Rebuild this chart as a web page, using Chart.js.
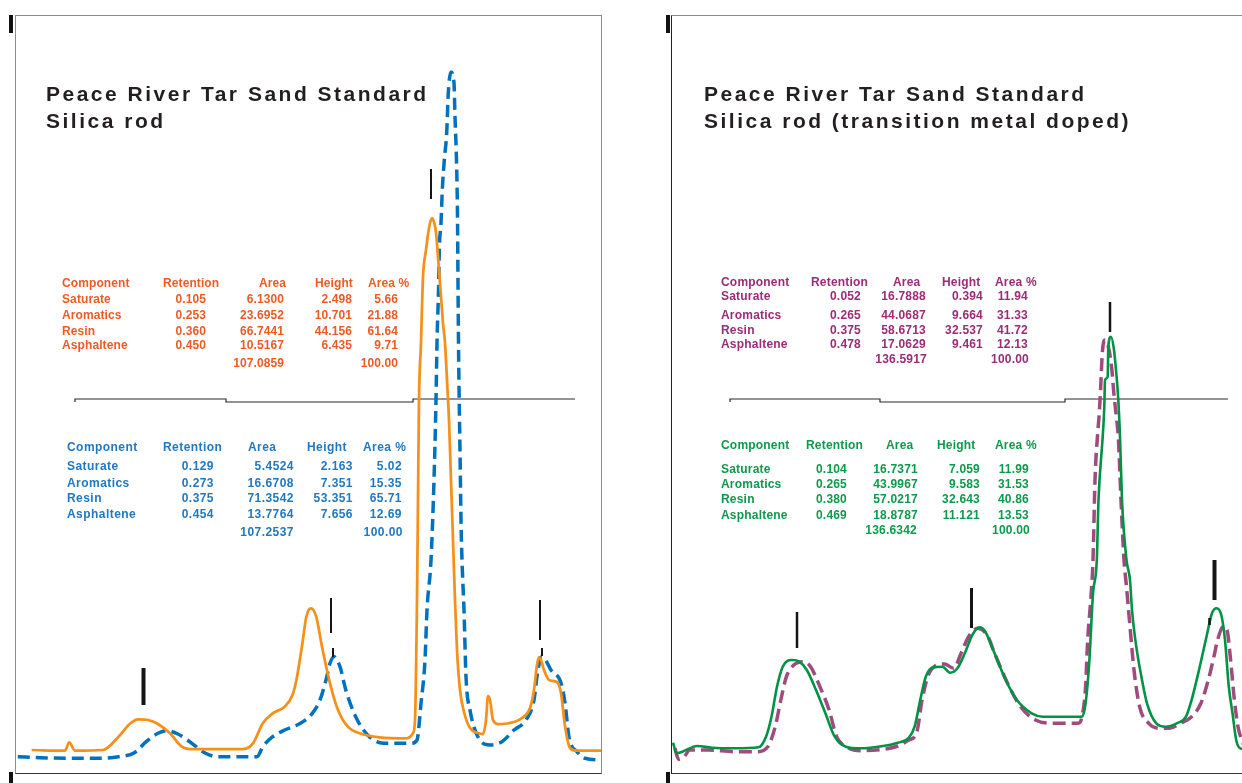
<!DOCTYPE html>
<html><head><meta charset="utf-8">
<script src="https://cdn.jsdelivr.net/npm/chart.js@4.4.1/dist/chart.umd.min.js"></script>
<style>
html,body{margin:0;padding:0;background:#fff;width:1242px;height:783px;overflow:hidden;}
body{position:relative;font-family:"Liberation Sans",Arial,sans-serif;}
.abs{position:absolute;}
canvas{display:block;}
.title{position:absolute;font-weight:bold;font-size:21px;line-height:21px;letter-spacing:2.5px;color:#231f20;white-space:nowrap;}
.cell{position:absolute;font-weight:bold;font-size:12px;line-height:12px;white-space:nowrap;}
</style></head><body>

<div class="abs" style="left:15px;top:15px;width:587px;height:759px;"><canvas id="cL" width="587" height="759"></canvas></div>
<div class="abs" style="left:671px;top:15px;width:587px;height:759px;"><canvas id="cR" width="587" height="759"></canvas></div>

<div class="abs" style="left:15px;top:15px;width:587px;height:759px;box-sizing:border-box;border:1px solid #8c8c8c;border-bottom-color:#333;pointer-events:none;"></div>
<div class="abs" style="left:671px;top:15px;width:600px;height:759px;box-sizing:border-box;border:1px solid #8c8c8c;border-left-color:#222;border-bottom-color:#333;pointer-events:none;"></div>

<div class="abs" style="left:9px;top:15px;width:4px;height:18px;background:#111;"></div>
<div class="abs" style="left:9px;top:772px;width:4px;height:11px;background:#111;"></div>
<div class="abs" style="left:666px;top:15px;width:4px;height:18px;background:#111;"></div>
<div class="abs" style="left:666px;top:772px;width:4px;height:11px;background:#111;"></div>

<div class="title" style="left:46px;top:82.7px;">Peace River Tar Sand Standard</div>
<div class="title" style="left:46px;top:109.7px;">Silica rod</div>
<div class="title" style="left:704px;top:82.7px;">Peace River Tar Sand Standard</div>
<div class="title" style="left:704px;top:109.7px;">Silica rod (transition metal doped)</div>

<div id="tables"></div>

<script>
// ---------- DATA ----------
// chromatogram traces: [scan time (s), detector signal (mV)]
const leftSolid = [
 [1.66,2.40],[5.0,2.33],[5.42,3.17],[6.0,2.33],[8.78,2.40],[10.36,3.73],[11.54,5.07],[12.33,5.47],[13.32,5.40],[14.3,5.0],
 [15.5,4.07],[16.68,2.73],[17.47,2.50],[22.8,2.50],[23.8,3.07],[24.78,5.07],[25.77,6.07],[26.96,6.73],[27.75,7.90],[28.14,9.40],
 [28.74,13.07],[29.13,15.73],[29.6,16.57],[30.12,15.73],[30.7,12.73],[31.5,9.07],[32.3,6.40],[33.28,4.73],[34.47,4.07],[36.44,3.67],
 [39.2,3.57],[39.8,4.07],[40.0,5.40],[40.2,17.4],[40.3,27.4],[40.4,37.4],[40.6,43.1],[40.7,46.7],[40.8,49.7],[41.1,52.4],
 [41.4,54.6],[41.7,55.6],[41.9,55.2],[42.1,54.2],[42.3,51.7],[42.5,49.1],[42.8,45.1],[43.0,43.1],[43.2,39.4],[43.4,35.4],
 [43.6,29.4],[43.8,23.4],[44.0,17.4],[44.2,12.4],[44.5,8.4],[44.9,6.2],[45.5,4.6],[46.3,4.1],[46.8,4.0],[47.1,5.4],
 [47.3,7.8],[47.5,7.4],[47.8,5.4],[48.3,5.0],[49.5,5.1],[50.7,5.6],[51.5,6.6],[51.9,8.4],[52.2,10.9],[52.4,11.7],
 [52.6,11.4],[52.9,10.4],[53.4,9.4],[54.2,9.2],[54.6,8.1],[55.0,4.8],[55.5,2.6],[56.2,2.33],[58.7,2.33]
];
const leftDashed = [
 [0.28,1.73],[2.45,1.63],[5.6,1.57],[8.0,1.57],[10.36,1.73],[11.94,2.13],[13.12,3.23],[14.3,4.07],[15.1,4.33],[16.29,4.0],
 [17.47,3.23],[19.05,2.07],[20.24,1.73],[24.2,1.73],[24.78,2.73],[25.77,3.73],[26.96,4.4],[28.54,5.07],[29.73,6.07],[30.5,7.4],
 [31.1,9.4],[31.5,11.07],[31.9,11.73],[32.5,10.73],[33.08,8.4],[34.07,5.73],[35.26,3.9],[36.84,3.07],[39.6,3.07],[40.2,3.4],
 [40.6,7.07],[41.0,11.4],[41.2,16.4],[41.6,21.4],[41.9,29.4],[42.1,37.4],[42.2,43.1],[42.37,49.1],[42.43,52.4],[42.6,55.1],
 [42.73,58.4],[42.93,61.4],[43.17,64.1],[43.33,68.1],[43.6,70.2],[43.9,69.1],[44.0,65.7],[44.12,62.4],[44.2,59.1],[44.25,55.7],
 [44.3,49.1],[44.35,43.1],[44.42,37.4],[44.5,32.4],[44.6,25.4],[44.7,21.4],[44.9,16.4],[45.1,9.7],[45.5,6.4],[46.3,3.7],
 [47.5,2.9],[48.7,3.23],[49.9,4.4],[51.1,5.4],[51.9,7.4],[52.25,10.1],[52.65,11.73],[53.05,11.4],[53.6,10.4],[54.6,9.1],
 [55.0,7.1],[55.4,3.7],[56.2,2.23],[57.0,1.57],[58.7,1.4]
];
const rightSolid = [
 [0.2,3.13],[0.57,2.07],[1.13,2.23],[2.62,2.8],[4.1,2.63],[6.33,2.57],[8.75,2.67],[9.5,3.73],[10.05,5.73],[10.6,8.73],
 [11.17,10.73],[12.1,11.4],[12.84,11.23],[13.58,10.4],[14.5,8.4],[15.44,6.07],[16.37,3.73],[17.49,2.73],[18.97,2.57],[21.2,2.8],
 [22.7,3.13],[23.8,3.63],[24.36,4.73],[24.92,7.4],[25.48,9.73],[26.22,10.67],[27.15,10.73],[27.9,10.13],[28.64,10.57],[29.38,12.07],
 [30.13,13.9],[30.87,14.67],[31.43,14.23],[32.36,12.07],[33.47,9.4],[34.59,7.4],[36.07,6.07],[37.19,5.73],[41.1,5.73],[41.46,7.07],
 [41.84,11.4],[42.2,18.07],[42.58,21.4],[42.75,27.4],[43.17,33.73],[43.33,36.73],[43.4,39.4],[43.67,39.73],[43.73,42.73],[44.0,43.73],
 [44.3,42.4],[44.5,40.4],[44.73,37.4],[44.9,33.73],[45.1,27.4],[45.55,21.4],[45.9,19.4],[46.1,16.4],[46.48,13.07],[47.04,9.73],
 [47.6,7.07],[48.53,5.07],[49.46,4.73],[50.57,5.07],[51.5,5.73],[52.06,7.4],[52.8,10.4],[53.55,13.73],[54.1,16.07],[54.55,16.57],
 [55.03,15.9],[55.4,13.4],[55.78,8.73],[56.15,6.07],[56.52,3.4],[56.9,2.57],[57.2,2.5]
];
const rightDashed = [
 [0.39,2.57],[0.76,1.47],[1.32,1.73],[1.87,2.4],[3.73,2.4],[6.33,2.23],[8.57,2.23],[9.68,2.73],[10.42,4.73],[10.98,7.4],
 [11.54,9.73],[12.28,10.9],[13.21,11.23],[13.96,10.73],[14.89,8.73],[15.81,6.4],[16.56,3.73],[17.49,2.73],[18.97,2.33],[21.2,2.47],
 [22.7,2.8],[23.8,3.4],[24.55,4.07],[25.11,7.4],[25.67,9.73],[26.41,10.8],[27.34,11.0],[28.27,10.57],[29.01,12.07],[29.76,13.73],
 [30.68,14.57],[31.61,13.9],[32.36,12.07],[33.66,9.07],[34.96,6.73],[36.45,5.4],[38.3,5.07],[40.72,5.07],[41.1,5.73],[41.46,8.73],
 [41.65,13.07],[42.02,18.07],[42.2,21.4],[42.4,29.4],[42.67,34.1],[42.83,36.1],[42.97,38.7],[43.13,42.1],[43.4,43.4],[43.7,42.9],
 [44.07,40.6],[44.3,37.9],[44.57,35.4],[44.73,33.7],[45.0,27.4],[45.3,21.4],[45.55,18.73],[45.9,14.73],[46.3,10.4],[46.86,6.73],
 [47.78,5.07],[48.9,4.57],[49.83,4.57],[50.94,5.07],[52.06,5.73],[52.99,7.07],[53.73,9.4],[54.29,11.73],[54.66,13.4],[55.22,14.73],
 [55.6,14.4],[55.96,11.4],[56.34,7.4],[56.7,4.73],[57.08,3.4],[57.5,2.4]
];
// integration window baselines: [time, level]
const leftWindows  = [[6.0,37.2],[21.1,37.5],[39.8,37.2],[47.8,37.5],[56.0,37.5]];
const rightWindows = [[5.9,37.2],[20.9,37.5],[39.4,37.2],[47.5,37.5],[55.7,37.5]];
// peak markers: [time, top level, bottom level]
const leftMarks  = [[12.85,10.6,6.9],[31.6,17.6,14.1],[31.8,12.6,11.7],[41.6,60.5,57.5],[52.5,17.4,13.4],[52.7,12.6,11.8]];
const rightMarks = [[12.6,16.2,12.6],[30.05,18.6,14.6],[43.9,47.2,44.2],[54.35,21.4,17.4],[53.85,15.6,14.9]];

// result tables
const headers = ["Component","Retention","Area","Height","Area %"];
const components = ["Saturate","Aromatics","Resin","Asphaltene"];
const orangeRet = [0.105,0.253,0.360,0.450];
const orangeArea = [6.1300,23.6952,66.7441,10.5167];
const orangeHeight = [2.498,10.701,44.156,6.435];
const orangePct = [5.66,21.88,61.64,9.71];
const orangeTotals = [107.0859,100.00];
const blueRet = [0.129,0.273,0.375,0.454];
const blueArea = [5.4524,16.6708,71.3542,13.7764];
const blueHeight = [2.163,7.351,53.351,7.656];
const bluePct = [5.02,15.35,65.71,12.69];
const blueTotals = [107.2537,100.00];
const purpleRet = [0.052,0.265,0.375,0.478];
const purpleArea = [16.7888,44.0687,58.6713,17.0629];
const purpleHeight = [0.394,9.664,32.537,9.461];
const purplePct = [11.94,31.33,41.72,12.13];
const purpleTotals = [136.5917,100.00];
const greenRet = [0.104,0.265,0.380,0.469];
const greenArea = [16.7371,43.9967,57.0217,18.8787];
const greenHeight = [7.059,9.583,32.643,11.121];
const greenPct = [11.99,31.53,40.86,13.53];
const greenTotals = [136.6342,100.00];

// ---------- LAYOUT / STYLE ----------
const tableLayouts = [
 {color:'#F15A22', ls:0.1, head:[62,163,259,315,368], name:62, val:[206,284,352,398], tot:[284,398], rows:[283,299,315,331,345,363],
  d:[orangeRet,orangeArea,orangeHeight,orangePct], t:orangeTotals},
 {color:'#1F78C1', ls:0.45, head:[67,163,248,307,363], name:67, val:[214,294,353,402], tot:[294,403], rows:[447,466,482.7,498.3,514.3,531.7],
  d:[blueRet,blueArea,blueHeight,bluePct], t:blueTotals},
 {color:'#9B2C78', ls:0.2, head:[721,811,893,942,995], name:721, val:[861,926,983,1028], tot:[927,1029], rows:[282.3,296,315,330,344,359.3],
  d:[purpleRet,purpleArea,purpleHeight,purplePct], t:purpleTotals},
 {color:'#0E9A4C', ls:0.2, head:[721,806,886,937,995], name:721, val:[847,918,980,1029], tot:[917,1030], rows:[445,469.3,484.3,499,515,530],
  d:[greenRet,greenArea,greenHeight,greenPct], t:greenTotals}
];
const decimals = [3,4,3,2];
const host = document.getElementById('tables');
function cell(text, x, yc, color, ls, alignRight){
  const el = document.createElement('div');
  el.className = 'cell';
  el.textContent = text;
  el.style.color = color;
  el.style.letterSpacing = ls + 'px';
  el.style.top = (yc - 5.9) + 'px';
  if (alignRight){ el.style.left = (x - 200) + 'px'; el.style.width = '200px'; el.style.textAlign = 'right'; }
  else el.style.left = x + 'px';
  host.appendChild(el);
}
tableLayouts.forEach(L=>{
  headers.forEach((h,i)=>cell(h, L.head[i], L.rows[0], L.color, L.ls, false));
  components.forEach((c,r)=>{
    cell(c, L.name, L.rows[r+1], L.color, L.ls, false);
    L.d.forEach((arr,k)=>cell(arr[r].toFixed(decimals[k]), L.val[k], L.rows[r+1], L.color, L.ls, true));
  });
  cell(L.t[0].toFixed(4), L.tot[0], L.rows[5], L.color, L.ls, true);
  cell(L.t[1].toFixed(2), L.tot[1], L.rows[5], L.color, L.ls, true);
});

function markerPlugin(marks, widths){
  return {
    id:'peakMarks',
    afterDatasetsDraw(chart){
      const {ctx} = chart; const xs = chart.scales.x, ys = chart.scales.y;
      ctx.save(); ctx.strokeStyle = '#151515'; ctx.lineCap = 'butt';
      marks.forEach((m,i)=>{
        const px = xs.getPixelForValue(m[0]);
        ctx.lineWidth = widths[i];
        ctx.beginPath();
        ctx.moveTo(px, ys.getPixelForValue(m[1]));
        ctx.lineTo(px, ys.getPixelForValue(m[2]));
        ctx.stroke();
      });
      ctx.restore();
    }
  };
}
const pts = a => a.map(p=>({x:p[0], y:p[1]}));
function makeChart(id, solid, dashed, windows, marks, markWidths, sc, dc, dash, sw){
  return new Chart(document.getElementById(id), {
    type:'line',
    data:{datasets:[
      {data:pts(solid), borderColor:sc, borderWidth:sw, pointRadius:0, cubicInterpolationMode:'monotone', borderJoinStyle:'round', fill:false},
      {data:pts(dashed), borderColor:dc, borderWidth:3.5, borderDash:dash, pointRadius:0, cubicInterpolationMode:'monotone', fill:false},
      {data:pts(windows), borderColor:'#2a2a2a', borderWidth:1.2, stepped:'after', pointRadius:0, fill:false}
    ]},
    options:{
      responsive:false, animation:false, events:[],
      layout:{padding:0},
      plugins:{legend:{display:false}, tooltip:{enabled:false}, title:{display:false}},
      scales:{
        x:{type:'linear', min:0, max:58.7, display:false},
        y:{type:'linear', min:0, max:75.9, display:false}
      }
    },
    plugins:[markerPlugin(marks, markWidths)]
  });
}
makeChart('cL', leftSolid, leftDashed, leftWindows, leftMarks, [4,2,2,2,2,2], '#F5901A', '#0071BC', [12,6], 2.75);
makeChart('cR', rightSolid, rightDashed, rightWindows, rightMarks, [2.5,3,2.5,4,2.5], '#009245', '#A04A7E', [13,6], 2.6);
</script>
</body></html>
